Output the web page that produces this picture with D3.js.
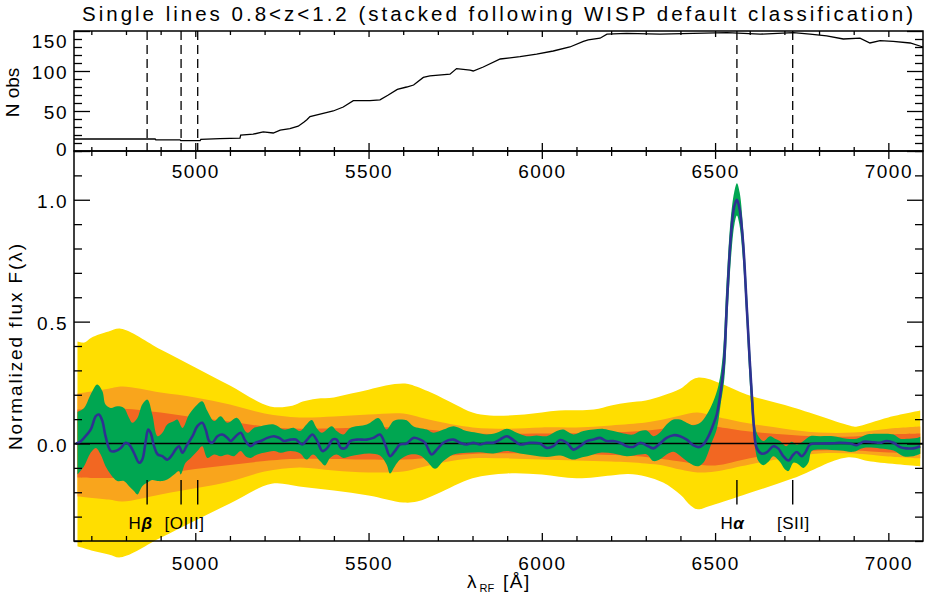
<!doctype html>
<html>
<head>
<meta charset="utf-8">
<title>Single lines stack</title>
<script src="https://d3js.org/d3.v7.min.js" charset="utf-8"></script>
<style>
	body { margin:0; background:#fff; }
	svg text { font-family:"Liberation Sans", Arial, sans-serif; fill:#000; }
	.tick text { font-size:19px; letter-spacing:1.5px; }
	.tick line { stroke-width:1.3; }
</style>
</head>
<body>
<script>
// N obs per wavelength (top panel)
var nObs = [[4650,15],[4884,15],[4886,14],[4956,14],[4958,13],[5014,13],[5016,14.5],[5071,15.5],[5129,16],[5131,20],[5167,21],[5196,24],[5225,22.5],[5245,26],[5273,28],[5297,31],[5313,36],[5322,39],[5331,43],[5369,47],[5398,50],[5427,55],[5456,63],[5504,63],[5533,64],[5557,70],[5583,77],[5610,80],[5630,82.5],[5658,92],[5677,94],[5735,96],[5754,103],[5793,101],[5802,100],[5831,105],[5880,115],[5937,118],[5985,121],[6033,125],[6081,130],[6120,137],[6134,139],[6168,141],[6188,146],[6245,147],[6341,146],[6437,147],[6534,148],[6630,146],[6726,148],[6774,146],[6822,144],[6870,140],[6918,141],[6947,135],[6976,138],[7014,137],[7063,135],[7100,130]];

// percentile bands (upper / lower edges)
var yelHi = [[4660,0.418],[4680,0.414],[4700,0.434],[4750,0.459],[4785,0.471],[4900,0.386],[5000,0.312],[5100,0.238],[5216,0.152],[5280,0.155],[5310,0.172],[5350,0.184],[5400,0.189],[5450,0.205],[5500,0.221],[5550,0.238],[5600,0.246],[5620,0.242],[5680,0.209],[5750,0.160],[5800,0.127],[5850,0.115],[5950,0.119],[6050,0.135],[6150,0.139],[6200,0.156],[6250,0.168],[6300,0.176],[6350,0.197],[6400,0.225],[6450,0.270],[6600,0.197],[6725,0.148],[6900,0.070],[6910,0.070],[7000,0.107],[7092,0.135]];
var yelLo = [[4660,-0.422],[4700,-0.439],[4750,-0.455],[4785,-0.467],[4900,-0.387],[5000,-0.316],[5100,-0.246],[5220,-0.165],[5300,-0.176],[5400,-0.193],[5500,-0.213],[5600,-0.242],[5640,-0.238],[5700,-0.205],[5800,-0.143],[5900,-0.123],[6000,-0.127],[6100,-0.143],[6200,-0.131],[6250,-0.125],[6300,-0.135],[6350,-0.160],[6400,-0.210],[6430,-0.255],[6450,-0.270],[6480,-0.258],[6580,-0.212],[6725,-0.143],[6880,-0.057],[6950,-0.074],[7092,-0.094]];
var oraHi = [[4660,0.205],[4750,0.225],[4790,0.234],[4900,0.209],[5000,0.189],[5100,0.160],[5200,0.123],[5300,0.107],[5400,0.111],[5500,0.119],[5600,0.123],[5650,0.107],[5700,0.090],[5800,0.066],[5900,0.061],[6000,0.066],[6100,0.066],[6200,0.074],[6300,0.086],[6350,0.098],[6400,0.115],[6450,0.127],[6500,0.111],[6600,0.082],[6700,0.061],[6800,0.045],[6900,0.045],[7000,0.061],[7092,0.070]];
var oraLo = [[4660,-0.217],[4750,-0.230],[4790,-0.238],[4900,-0.209],[5000,-0.184],[5100,-0.156],[5200,-0.115],[5300,-0.098],[5400,-0.111],[5500,-0.119],[5600,-0.115],[5650,-0.098],[5700,-0.082],[5800,-0.061],[5900,-0.061],[6000,-0.066],[6100,-0.070],[6200,-0.074],[6300,-0.082],[6350,-0.090],[6400,-0.107],[6450,-0.119],[6500,-0.115],[6600,-0.086],[6700,-0.061],[6800,-0.041],[6900,-0.041],[7000,-0.053],[7092,-0.061]];
var redHi = [[4660,0.139],[4790,0.143],[4900,0.127],[5000,0.107],[5100,0.090],[5200,0.070],[5300,0.061],[5500,0.066],[5600,0.066],[5700,0.053],[5800,0.041],[6000,0.041],[6200,0.045],[6300,0.053],[6400,0.070],[6450,0.078],[6500,0.070],[6600,0.049],[6700,0.037],[6800,0.029],[6900,0.029],[7000,0.037],[7092,0.041]];
var redLo = [[4660,-0.139],[4790,-0.141],[4900,-0.125],[5000,-0.105],[5100,-0.088],[5200,-0.072],[5300,-0.063],[5500,-0.066],[5600,-0.066],[5700,-0.055],[5800,-0.043],[6000,-0.041],[6200,-0.047],[6300,-0.055],[6400,-0.074],[6450,-0.086],[6500,-0.090],[6600,-0.060],[6700,-0.039],[6800,-0.029],[6900,-0.029],[7000,-0.037],[7092,-0.043]];

var grnHi = [[4660,0.130],[4679,0.146],[4698,0.201],[4717,0.242],[4732,0.214],[4741,0.160],[4756,0.146],[4775,0.153],[4794,0.146],[4809,0.105],[4818,0.085],[4833,0.105],[4847,0.160],[4862,0.180],[4876,0.119],[4891,0.030],[4905,0.044],[4919,0.078],[4939,0.092],[4948,0.098],[4963,0.064],[4982,0.119],[5006,0.160],[5020,0.173],[5035,0.133],[5054,0.092],[5073,0.112],[5093,0.085],[5121,0.105],[5150,0.044],[5169,0.064],[5189,0.071],[5227,0.078],[5256,0.057],[5285,0.064],[5302,0.051],[5321,0.078],[5336,0.096],[5350,0.064],[5365,0.044],[5394,0.071],[5408,0.051],[5427,0.037],[5447,0.064],[5495,0.078],[5528,0.105],[5538,0.090],[5552,0.057],[5572,0.092],[5591,0.098],[5610,0.095],[5629,0.071],[5668,0.057],[5687,0.044],[5716,0.057],[5745,0.071],[5783,0.051],[5812,0.044],[5841,0.037],[5870,0.044],[5899,0.061],[5928,0.044],[5956,0.030],[5985,0.033],[6014,0.030],[6043,0.051],[6062,0.057],[6091,0.037],[6120,0.051],[6149,0.057],[6178,0.060],[6207,0.051],[6236,0.041],[6264,0.037],[6284,0.051],[6303,0.053],[6322,0.030],[6341,0.045],[6360,0.078],[6380,0.098],[6399,0.098],[6418,0.085],[6437,0.075],[6457,0.085],[6476,0.119],[6495,0.173],[6510,0.24],[6522,0.36],[6533,0.66],[6545,0.92],[6555,1.03],[6563,1.068],[6571,1.03],[6582,0.86],[6592,0.62],[6602,0.36],[6610,0.18],[6617,0.06],[6625,0.030],[6639,0.010],[6659,0.030],[6673,0.020],[6687,0.010],[6705,-0.011],[6721,0.007],[6736,-0.005],[6755,0.010],[6774,0.030],[6803,0.030],[6841,0.030],[6880,0.020],[6909,0.020],[6938,0.037],[6976,0.040],[7015,0.037],[7034,0.020],[7053,0.020],[7082,0.023],[7092,0.028]];
var grnLo = [[4660,-0.127],[4679,-0.093],[4698,-0.038],[4713,-0.018],[4727,-0.045],[4741,-0.093],[4756,-0.127],[4775,-0.154],[4794,-0.154],[4809,-0.175],[4823,-0.195],[4833,-0.209],[4847,-0.175],[4862,-0.160],[4876,-0.150],[4891,-0.154],[4905,-0.154],[4919,-0.148],[4939,-0.127],[4953,-0.113],[4958,-0.127],[4972,-0.079],[4987,-0.059],[5006,-0.031],[5020,-0.011],[5035,-0.059],[5054,-0.045],[5073,-0.052],[5093,-0.045],[5112,-0.052],[5131,-0.031],[5145,-0.052],[5160,-0.059],[5179,-0.045],[5198,-0.038],[5227,-0.031],[5246,-0.038],[5275,-0.031],[5302,-0.040],[5321,-0.066],[5340,-0.045],[5360,-0.072],[5374,-0.090],[5389,-0.059],[5408,-0.045],[5427,-0.059],[5447,-0.052],[5475,-0.045],[5504,-0.041],[5533,-0.049],[5552,-0.086],[5562,-0.123],[5576,-0.093],[5591,-0.066],[5620,-0.045],[5649,-0.049],[5668,-0.072],[5692,-0.104],[5716,-0.072],[5745,-0.045],[5783,-0.038],[5822,-0.036],[5860,-0.041],[5899,-0.031],[5937,-0.041],[5976,-0.049],[6014,-0.055],[6053,-0.049],[6091,-0.066],[6110,-0.059],[6139,-0.049],[6168,-0.038],[6207,-0.041],[6245,-0.052],[6284,-0.045],[6303,-0.045],[6322,-0.072],[6341,-0.065],[6360,-0.045],[6380,-0.034],[6399,-0.050],[6418,-0.072],[6437,-0.089],[6452,-0.093],[6466,-0.079],[6476,-0.052],[6490,0.003],[6505,0.060],[6516,0.16],[6527,0.27],[6537,0.55],[6547,0.78],[6556,0.90],[6563,0.935],[6570,0.90],[6580,0.76],[6590,0.52],[6598,0.30],[6605,0.14],[6612,0.03],[6618,-0.04],[6625,-0.072],[6639,-0.089],[6654,-0.075],[6668,-0.052],[6687,-0.075],[6702,-0.107],[6712,-0.113],[6726,-0.079],[6740,-0.085],[6755,-0.100],[6769,-0.079],[6779,-0.031],[6803,-0.025],[6861,-0.029],[6899,-0.034],[6928,-0.018],[6976,-0.020],[7015,-0.029],[7043,-0.052],[7072,-0.052],[7092,-0.042]];

// stacked median
var median = [[4655,0],[4664,0.003],[4679,0.023],[4698,0.057],[4713,0.112],[4722,0.119],[4732,0.092],[4741,0.030],[4756,-0.031],[4770,-0.031],[4785,-0.018],[4799,0.003],[4809,-0.004],[4823,-0.038],[4838,-0.079],[4847,-0.066],[4857,0.010],[4864,0.057],[4871,0.044],[4881,-0.011],[4891,-0.044],[4905,-0.052],[4919,-0.066],[4934,-0.045],[4943,-0.025],[4953,-0.011],[4963,-0.038],[4977,-0.004],[4992,0.030],[5006,0.071],[5020,0.085],[5030,0.057],[5040,0.010],[5049,0.003],[5064,0.030],[5078,0.037],[5093,0.023],[5102,0.010],[5117,0.030],[5131,0.044],[5145,0.010],[5160,-0.011],[5174,0.003],[5189,0.010],[5208,0.023],[5227,0.030],[5242,0.023],[5256,0.010],[5275,0.016],[5290,0.016],[5309,-0.004],[5323,0.016],[5338,0.037],[5352,0.010],[5367,-0.031],[5381,-0.018],[5396,0.016],[5408,0.016],[5420,-0.018],[5434,-0.018],[5447,0.010],[5466,0.016],[5495,0.016],[5514,0.023],[5533,0.037],[5548,-0.004],[5562,-0.052],[5576,-0.031],[5591,-0.004],[5610,0],[5629,0.023],[5649,0.016],[5663,0.003],[5682,-0.045],[5697,-0.025],[5716,0.003],[5745,0.016],[5764,0.003],[5783,-0.004],[5802,0.003],[5822,-0.004],[5841,0.003],[5860,0.003],[5879,0.016],[5899,0.030],[5918,0.014],[5937,-0.004],[5966,0.003],[5995,0],[6014,-0.018],[6033,-0.011],[6053,0.014],[6072,0.003],[6091,-0.025],[6110,-0.011],[6130,0.010],[6149,0.016],[6168,0.023],[6187,0.010],[6206,0.010],[6226,0.003],[6245,-0.011],[6264,-0.014],[6284,0.003],[6303,-0.008],[6322,-0.020],[6341,0.000],[6360,0.023],[6380,0.034],[6399,0.030],[6418,0.016],[6437,-0.007],[6452,-0.015],[6466,-0.004],[6481,0.030],[6495,0.078],[6505,0.12],[6515,0.20],[6525,0.32],[6535,0.60],[6545,0.84],[6555,0.97],[6563,1.00],[6571,0.96],[6581,0.82],[6591,0.57],[6600,0.34],[6606,0.20],[6612,0.07],[6620,-0.018],[6635,-0.042],[6650,-0.035],[6668,-0.011],[6682,-0.020],[6697,-0.052],[6712,-0.070],[6726,-0.045],[6736,-0.035],[6750,-0.052],[6760,-0.038],[6774,-0.004],[6803,0],[6841,0.001],[6861,0.003],[6890,0],[6909,-0.007],[6928,0.007],[6957,0.005],[6976,0.003],[6995,0.010],[7015,0.003],[7034,-0.015],[7053,-0.020],[7072,-0.020],[7092,-0.011]];

// emission lines
var lineLam = [4861, 4959, 5007, 6563, 6724];
var labelText = ["H", "[OIII]", "H", "[SII]"];
var labelGreek = ["\u03b2", "", "\u03b1", ""];
var labelLam = [4842, 4969, 6550, 6726];

var xMajor = [5000, 5500, 6000, 6500, 7000];
var nMajor = [0, 50, 100, 150];
var fMajor = [0.0, 0.5, 1.0];

var width = 926, height = 600;
var svg = d3.select("body").append("svg")
	.attr("width", width)
	.attr("height", height);

var x = d3.scaleLinear().domain([4650, 7100]).range([74, 923]);
var yTop = d3.scaleLinear().domain([0, 150]).range([151, 31]);
var yBot = d3.scaleLinear().domain([-0.4, 1.2]).range([541, 151]);

var xMinor = d3.range(4700, 7100, 100).filter(function(d){ return d % 500 != 0; });
var nMinor = d3.range(0, 151, 10).filter(function(d){ return d % 50 != 0; });
var fMinor = d3.range(-4, 13).map(function(d){ return d / 10; }).filter(function(d){ return Math.abs(d * 2 - Math.round(d * 2)) > 1e-6; });

//曲线生成
var lineBot = d3.line()
	.x(function(d){ return x(d[0]); })
	.y(function(d){ return yBot(d[1]); })
	.curve(d3.curveCatmullRom.alpha(0.5));

function band(hi, lo, color) {
	var p = lineBot(hi) + lineBot(lo.slice().reverse()).replace(/^M/, "L") + "Z";
	svg.append("path").attr("d", p).attr("fill", color);
}

band(yelHi, yelLo, "#ffde00");
band(oraHi, oraLo, "#f9a51c");
band(redHi, redLo, "#f26722");
band(grnHi, grnLo, "#00a651");

// zero line
svg.append("line")
	.attr("x1", x(4650)).attr("x2", x(7100))
	.attr("y1", yBot(0)).attr("y2", yBot(0))
	.attr("stroke", "#000").attr("stroke-width", 1.6);

svg.append("path")
	.attr("d", lineBot(median))
	.attr("fill", "none")
	.attr("stroke", "#2e3192")
	.attr("stroke-width", 2.6)
	.attr("stroke-linejoin", "round");

// line markers
svg.selectAll(".mark").data(lineLam).enter().append("line")
	.attr("x1", function(d){ return x(d); }).attr("x2", function(d){ return x(d); })
	.attr("y1", yBot(-0.15)).attr("y2", yBot(-0.25))
	.attr("stroke", "#000").attr("stroke-width", 1.4);

var labs = svg.selectAll(".lab").data(labelText).enter().append("text")
	.attr("x", function(d, i){ return x(labelLam[i]); })
	.attr("y", yBot(-0.352))
	.attr("text-anchor", "middle")
	.attr("font-size", 17)
	.style("letter-spacing", "0.5px");
labs.append("tspan").text(function(d){ return d; });
labs.append("tspan")
	.attr("font-weight", "bold").attr("font-style", "italic")
	.text(function(d, i){ return labelGreek[i]; });

// top panel: N obs
svg.selectAll(".dash").data(lineLam).enter().append("line")
	.attr("x1", function(d){ return x(d); }).attr("x2", function(d){ return x(d); })
	.attr("y1", yTop(150)).attr("y2", yTop(0))
	.attr("stroke", "#000").attr("stroke-width", 1.3)
	.attr("stroke-dasharray", "9,5");

svg.append("path")
	.datum(nObs)
	.attr("d", d3.line()
		.x(function(d){ return x(d[0]); })
		.y(function(d){ return yTop(d[1]); }))
	.attr("fill", "none")
	.attr("stroke", "#000")
	.attr("stroke-width", 1.3);

// frames
svg.append("rect").attr("x", 74).attr("y", 31).attr("width", 849).attr("height", 120)
	.attr("fill", "none").attr("stroke", "#000").attr("stroke-width", 1.5);
svg.append("rect").attr("x", 74).attr("y", 151).attr("width", 849).attr("height", 390)
	.attr("fill", "none").attr("stroke", "#000").attr("stroke-width", 1.5);

function addAxis(axis, tx, ty) {
	var g = svg.append("g").attr("transform", "translate(" + tx + "," + ty + ")").call(axis);
	g.select(".domain").remove();
	return g;
}

// x axes
addAxis(d3.axisBottom(x).tickValues(xMajor).tickSizeInner(-8).tickSizeOuter(0).tickPadding(14).tickFormat(d3.format("d")), 0, 151);
addAxis(d3.axisBottom(x).tickValues(xMajor).tickSizeInner(8).tickSizeOuter(0).tickFormat(""), 0, 151);
addAxis(d3.axisBottom(x).tickValues(xMinor).tickSizeInner(-4).tickSizeOuter(0).tickFormat(""), 0, 151);
addAxis(d3.axisBottom(x).tickValues(xMinor).tickSizeInner(5).tickSizeOuter(0).tickFormat(""), 0, 151);
addAxis(d3.axisTop(x).tickValues(xMajor).tickSizeInner(-6).tickSizeOuter(0).tickFormat(""), 0, 31);
addAxis(d3.axisTop(x).tickValues(xMinor).tickSizeInner(-4).tickSizeOuter(0).tickFormat(""), 0, 31);
addAxis(d3.axisBottom(x).tickValues(xMajor).tickSizeInner(-8).tickSizeOuter(0).tickPadding(16).tickFormat(d3.format("d")), 0, 541);
addAxis(d3.axisBottom(x).tickValues(xMinor).tickSizeInner(-5).tickSizeOuter(0).tickFormat(""), 0, 541);

// y axes, top panel
var gN = addAxis(d3.axisLeft(yTop).tickValues(nMajor).tickSizeInner(-16).tickSizeOuter(0).tickPadding(6), 74, 0);
gN.selectAll("text").attr("dy", function(d){ return d == 150 ? "0.85em" : (d == 0 ? "0.25em" : "0.42em"); });
addAxis(d3.axisLeft(yTop).tickValues(nMinor).tickSizeInner(-8).tickSizeOuter(0).tickFormat(""), 74, 0);
addAxis(d3.axisRight(yTop).tickValues(nMajor).tickSizeInner(-16).tickSizeOuter(0).tickFormat(""), 923, 0);
addAxis(d3.axisRight(yTop).tickValues(nMinor).tickSizeInner(-8).tickSizeOuter(0).tickFormat(""), 923, 0);

// y axes, bottom panel
var gF = addAxis(d3.axisLeft(yBot).tickValues(fMajor).tickSizeInner(-16).tickSizeOuter(0).tickPadding(6).tickFormat(d3.format(".1f")), 74, 0);
gF.selectAll("text").attr("dy", "0.42em");
addAxis(d3.axisLeft(yBot).tickValues(fMinor).tickSizeInner(-8).tickSizeOuter(0).tickFormat(""), 74, 0);
addAxis(d3.axisRight(yBot).tickValues(fMajor).tickSizeInner(-16).tickSizeOuter(0).tickFormat(""), 923, 0);
addAxis(d3.axisRight(yBot).tickValues(fMinor).tickSizeInner(-8).tickSizeOuter(0).tickFormat(""), 923, 0);

// titles
svg.append("text")
	.attr("x", 82).attr("y", 21)
	.attr("font-size", 20.5)
	.attr("textLength", 831).attr("lengthAdjust", "spacing")
	.text("Single lines 0.8<z<1.2 (stacked following WISP default classification)");

svg.append("text")
	.attr("transform", "translate(18.5,92.5) rotate(-90)")
	.attr("text-anchor", "middle")
	.attr("font-size", 19)
	.text("N obs");

svg.append("text")
	.attr("transform", "translate(22,450) rotate(-90)")
	.attr("font-size", 19)
	.attr("textLength", 206).attr("lengthAdjust", "spacing")
	.text("Normalized flux  F(\u03bb)");

var xt = svg.append("text").attr("y", 588).attr("font-size", 19);
xt.append("tspan").attr("x", 467).text("\u03bb");
xt.append("tspan").attr("x", 479.5).attr("dy", 4).attr("font-size", 11).text("RF");
xt.append("tspan").attr("x", 503).attr("dy", -4).style("letter-spacing", "1.5px").text("[\u00c5]");
</script>
</body>
</html>
